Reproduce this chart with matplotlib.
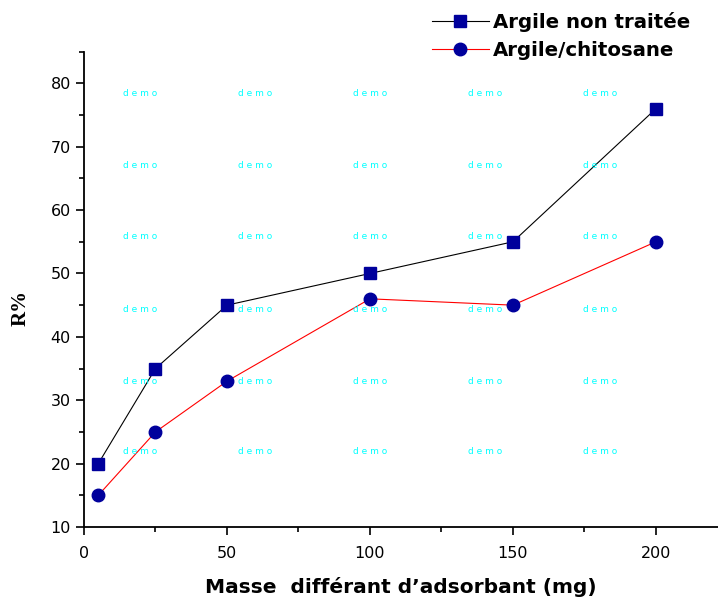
import matplotlib
matplotlib.use("Agg")
import matplotlib.pyplot as plt
from matplotlib.ticker import MultipleLocator

masse = [5, 25, 50, 100, 150, 200]
r_brute = [20, 35, 45, 50, 55, 76]
r_chitosane = [15, 25, 33, 46, 45, 55]
labels = ["Argile non traitée", "Argile/chitosane"]

plt.rcParams['font.family'] = ['DejaVu Sans']

fig = plt.figure(figsize=(7.18, 6.04), dpi=100)
ax = fig.add_axes([0.117, 0.1275, 0.883, 0.787])

# watermark
for yy in [94, 166, 237, 309, 381, 452]:
    for xx in [140, 255, 370, 485, 600]:
        fig.text(xx / 718, 1 - yy / 604, "d e m o", color="cyan", fontsize=6.5,
                 ha="center", va="center")

blue = "#00009c"
ax.plot(masse, r_brute, color="black", lw=0.8, marker="s", ms=8,
        mfc=blue, mec=blue, label=labels[0])
ax.plot(masse, r_chitosane, color="red", lw=0.8, marker="o", ms=9,
        mfc=blue, mec=blue, label=labels[1])

ax.set_xlim(0, 221.7)
ax.set_ylim(10, 85)
ax.xaxis.set_major_locator(MultipleLocator(50))
ax.xaxis.set_minor_locator(MultipleLocator(25))
ax.yaxis.set_major_locator(MultipleLocator(10))
ax.yaxis.set_minor_locator(MultipleLocator(5))
ax.spines['top'].set_visible(False)
ax.spines['right'].set_visible(False)
ax.spines['left'].set_linewidth(1.3)
ax.spines['bottom'].set_linewidth(1.3)
ax.tick_params(which="major", direction="out", length=6, width=1.2, labelsize=11.5)
ax.tick_params(which="minor", direction="out", length=3.5, width=1.2)
ax.tick_params(axis="x", pad=8)

ax.set_xlabel("Masse  différant d\u2019adsorbant (mg)", fontsize=14.5, fontweight="bold", labelpad=11)
ax.set_ylabel("R%", fontsize=15, fontweight="bold", family="Liberation Serif")
ax.yaxis.set_label_coords(-0.084, 0.46)

fig.legend(loc="upper right", bbox_to_anchor=(0.986, 1.01), frameon=False,
           prop={"size": 14.2, "weight": "bold"}, handlelength=2.9,
           handletextpad=0.2, labelspacing=0.45)

fig.savefig("out.png", dpi=100)
